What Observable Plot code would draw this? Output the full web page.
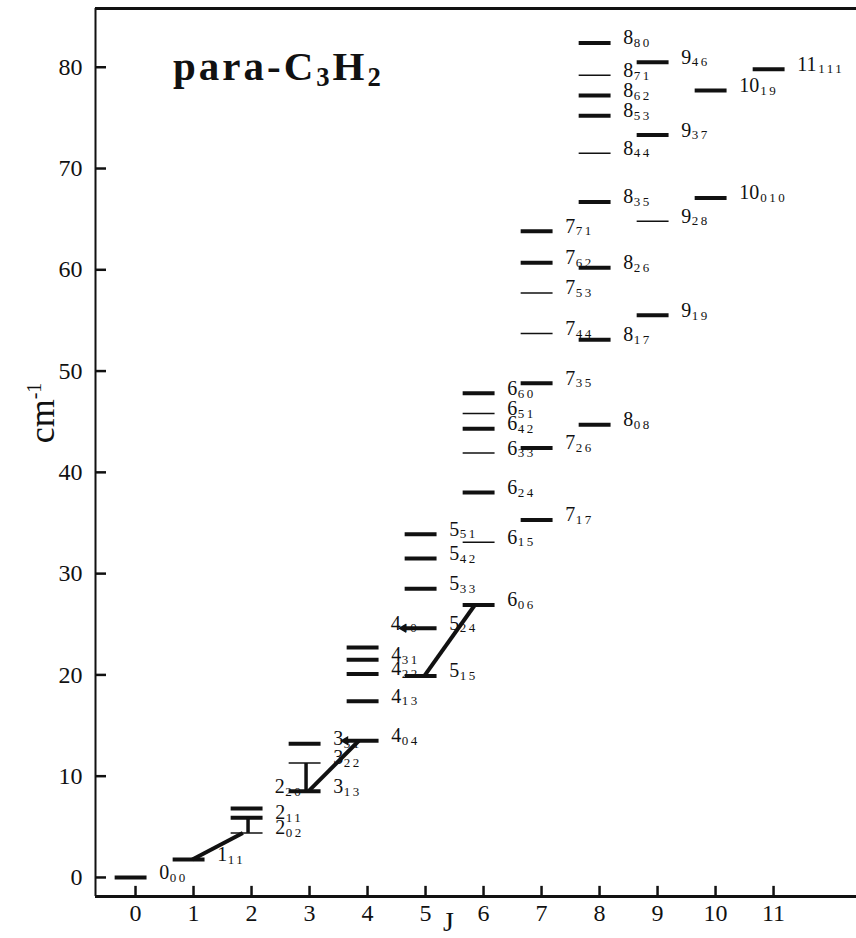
<!DOCTYPE html>
<html><head><meta charset="utf-8">
<script src="https://cdn.jsdelivr.net/npm/d3@7"></script>
<script src="https://cdn.jsdelivr.net/npm/@observablehq/plot@0.6"></script>
<style>
body{margin:0;background:#fff;}
#wrap{position:relative;width:856px;height:938px;overflow:hidden;}
.title{position:absolute;left:173px;top:46px;font:bold 41px "Liberation Serif",serif;line-height:1;letter-spacing:3px;color:#111;white-space:nowrap;}
.title sub{font-size:0.65em;vertical-align:-0.22em;letter-spacing:3px;}
.ylab{position:absolute;left:42px;top:413px;transform:translate(-50%,-50%) rotate(-90deg);font:36px "Liberation Serif",serif;line-height:1;color:#111;white-space:nowrap;}
.ylab sup{font-size:20px;vertical-align:0.65em;}
.xlab{position:absolute;left:443px;top:908px;font:28px "Liberation Serif",serif;line-height:1;color:#111;}
g[font-size="13"] text{letter-spacing:2.5px;}
</style></head><body><div id="wrap"></div>
<script>
// Energy levels of para-C3H2 (cm^-1)
const levelJ      = [0, 1, 2, 2, 2, 3, 3, 3, 4, 4, 4, 4, 4, 5, 5, 5, 5, 5, 6, 6, 6, 6, 6, 6, 6, 7, 7, 7, 7, 7, 7, 7, 8, 8, 8, 8, 8, 8, 8, 8, 8, 9, 9, 9, 9, 10, 10, 11];
const levelName   = ["0_00","1_11","2_02","2_11","","3_13","3_22","3_31","4_04","4_13","4_22","4_31","","5_15","5_24","5_33","5_42","5_51","6_06","6_15","6_24","6_33","6_42","6_51","6_60","7_17","7_26","7_35","7_44","7_53","7_62","7_71","8_08","8_17","8_26","8_35","8_44","8_53","8_62","8_71","8_80","9_19","9_28","9_37","9_46","10_010","10_19","11_111"];
const levelEnergy = [0, 1.78, 4.4, 5.9, 6.8, 8.5, 11.3, 13.2, 13.5, 17.4, 20.1, 21.5, 22.7, 19.9, 24.6, 28.5, 31.5, 33.9, 26.9, 33.1, 38.0, 41.9, 44.3, 45.8, 47.8, 35.3, 42.4, 48.8, 53.7, 57.7, 60.7, 63.8, 44.7, 53.1, 60.2, 66.7, 71.5, 75.2, 77.2, 79.2, 82.4, 55.5, 64.8, 73.3, 80.5, 67.1, 77.7, 79.8];
const levelThick  = [1, 1, 0, 1, 1, 1, 0, 1, 1, 1, 1, 1, 1, 1, 1, 1, 1, 1, 1, 0, 1, 0, 1, 0, 1, 1, 1, 1, 0, 0, 1, 1, 1, 1, 1, 1, 0, 1, 1, 0, 1, 1, 0, 1, 1, 1, 1, 1];

// labels written to the left of a level (name, level they sit beside)
const sideLabelName  = ["2_20", "4_40"];
const sideLabelLevel = ["3_13", "5_24"];
// levels marked with an arrowhead at their left end
const arrowLevels = ["4_04", "5_24"];

// transitions drawn as thick connectors
const diagFrom = ["1_11", "3_13", "5_15"];
const diagTo   = ["2_02", "4_04", "6_06"];
const vertFrom = ["2_02", "3_13"];
const vertTo   = ["2_11", "3_22"];

const xTicks = [0, 1, 2, 3, 4, 5, 6, 7, 8, 9, 10, 11];
const yTicks = [0, 10, 20, 30, 40, 50, 60, 70, 80];

const XMIN = -0.69, XMAX = 12.43, YMIN = -1.88, YMAX = 85.8;

const levels = levelJ.map((J, i) => {
  const [main, sub] = levelName[i] ? levelName[i].split("_") : ["", ""];
  return {J, name: levelName[i], main, sub, E: levelEnergy[i], thick: levelThick[i] === 1};
});
const byName = new Map(levels.filter(d => d.name).map(d => [d.name, d]));
const sideLabels = sideLabelName.map((n, i) => {
  const lv = byName.get(sideLabelLevel[i]);
  const [main, sub] = n.split("_");
  return {J: lv.J, E: lv.E, main, sub};
});
const diags = diagFrom.map((f, i) => ({a: byName.get(f), b: byName.get(diagTo[i])}));
const verts = vertFrom.map((f, i) => ({a: byName.get(f), b: byName.get(vertTo[i])}));
const arrows = arrowLevels.map(n => byName.get(n));
const labelled = levels.filter(d => d.name);

const CW = 0.18; // width of one main digit in x units
const ink = "#111";

const plot = Plot.plot({
  width: 856, height: 938,
  marginLeft: 95, marginRight: 0, marginTop: 8, marginBottom: 42,
  x: {domain: [XMIN, XMAX]},
  y: {domain: [YMIN, YMAX]},
  style: {fontFamily: "Liberation Serif, serif", color: ink, background: "#fff", overflow: "visible"},
  marks: [
    Plot.axisY(yTicks, {tickSize: 0, tickPadding: 13, fontSize: 24, label: null}),
    Plot.axisX(xTicks, {tickSize: 0, tickPadding: 7, fontSize: 24, label: null}),
    // frame
    Plot.ruleX([XMIN], {y1: YMIN, y2: YMAX, stroke: ink, strokeWidth: 2}),
    Plot.ruleY([YMIN], {x1: XMIN, x2: XMAX, stroke: ink, strokeWidth: 3}),
    Plot.ruleY([YMAX], {x1: XMIN, x2: XMAX, stroke: ink, strokeWidth: 3}),
    // inward ticks
    Plot.ruleY(yTicks, {x1: XMIN, x2: XMIN + 0.19, stroke: ink, strokeWidth: 2.5}),
    Plot.ruleX(xTicks, {y1: YMIN, y2: YMIN + 1.0, stroke: ink, strokeWidth: 2.5}),
    // levels
    Plot.link(levels.filter(d => d.thick), {x1: d => d.J - 0.36, x2: d => d.J + 0.19, y1: "E", y2: "E", stroke: ink, strokeWidth: 4}),
    Plot.link(levels.filter(d => !d.thick), {x1: d => d.J - 0.36, x2: d => d.J + 0.19, y1: "E", y2: "E", stroke: ink, strokeWidth: 1.5}),
    // transitions
    Plot.link(diags, {x1: d => d.a.J - 0.02, y1: d => d.a.E, x2: d => d.b.J - 0.15, y2: d => d.b.E, stroke: ink, strokeWidth: 4}),
    Plot.link(verts, {x1: d => d.a.J - 0.06, y1: d => d.a.E, x2: d => d.b.J - 0.06, y2: d => d.b.E, stroke: ink, strokeWidth: 3.5}),
    // arrowheads
    Plot.dot(arrows, {x: d => d.J - 0.38, y: "E", symbol: "triangle", rotate: -90, r: 3.5, fill: ink}),
    // level labels
    Plot.text(labelled, {x: d => d.J + 0.41, y: "E", text: "main", textAnchor: "start", fontSize: 20, dy: -5, fill: ink}),
    Plot.text(labelled, {x: d => d.J + 0.41 + d.main.length * CW, y: "E", text: "sub", textAnchor: "start", fontSize: 13, dy: 0, fill: ink}),
    Plot.text(sideLabels, {x: d => d.J - 0.6, y: "E", text: "main", textAnchor: "start", fontSize: 20, dy: -5, fill: ink}),
    Plot.text(sideLabels, {x: d => d.J - 0.6 + d.main.length * CW, y: "E", text: "sub", textAnchor: "start", fontSize: 13, dy: 0, fill: ink})
  ]
});

const wrap = document.getElementById("wrap");
wrap.appendChild(plot);
const t = document.createElement("div");
t.className = "title";
t.innerHTML = "para-C<sub>3</sub>H<sub>2</sub>";
wrap.appendChild(t);
const yl = document.createElement("div");
yl.className = "ylab";
yl.innerHTML = "cm<sup>-1</sup>";
wrap.appendChild(yl);
const xl = document.createElement("div");
xl.className = "xlab";
xl.textContent = "J";
wrap.appendChild(xl);
</script>
</body></html>
